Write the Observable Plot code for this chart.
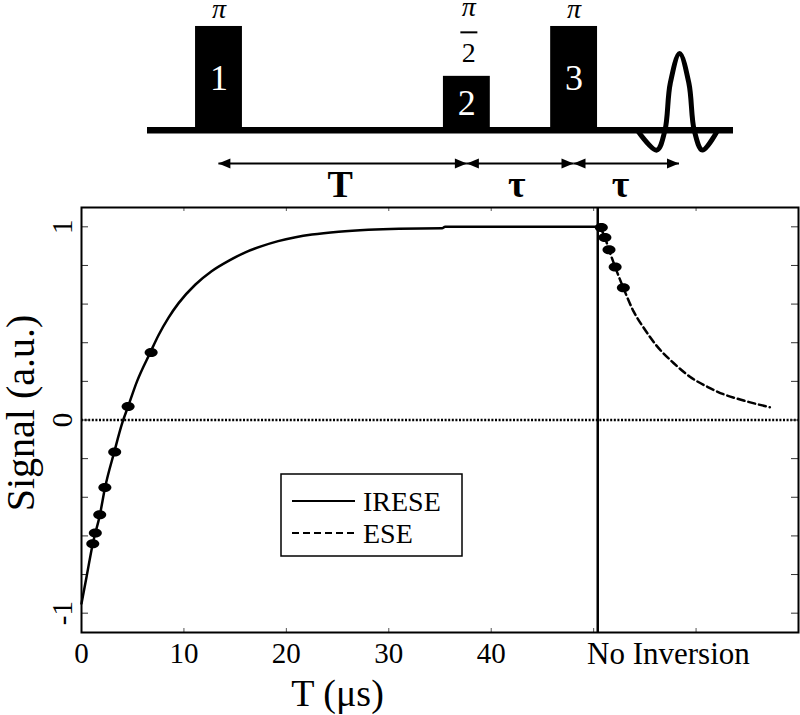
<!DOCTYPE html>
<html>
<head>
<meta charset="utf-8">
<script src="https://cdn.jsdelivr.net/npm/d3@7"></script>
<script src="https://cdn.jsdelivr.net/npm/@observablehq/plot@0.6"></script>
<style>
  body { margin: 0; background: #fff; }
  #root { width: 800px; }
  svg { display: block; }
</style>
</head>
<body>
<div id="root"></div>
<script>
// ---------- Pulse-sequence schematic (arbitrary time units, 0–100 along the baseline)
const pulseNumbers    = ["1", "2", "3"];
const pulseAngles     = ["π", "π/2", "π"];
const pulseCenters    = [12.2, 54.5, 72.8];
const pulseAmplitudes = [1, 0.52, 1];
const echoTimes       = [83.6, 86.9, 88.3, 89.2, 90.8, 92.4, 93.3, 94.7, 97.3];
const echoAmplitudes  = [0, -0.19, 0, 0.45, 0.74, 0.45, 0, -0.19, 0];
const intervalBounds  = [12.1, 54.5, 72.7, 90.7];
const intervalLabels  = ["T", "τ", "τ"];
const intervalLabelAt = [32.9, 63.0, 80.7];

// ---------- Signal vs T
const iresCurveT = [0, 0.5, 1.1, 1.8, 2.3, 3.2, 3.95, 4.55, 5.42, 6.72, 7.53, 8.5, 9.48, 11.1, 12.7, 14.4, 16.0, 17.6, 19.2, 20.9, 22.5, 25.1, 28.0, 31.0, 35.2, 35.5, 50.4];
const iresCurveS = [-0.95, -0.81, -0.64, -0.49, -0.35, -0.165, -0.02, 0.07, 0.2, 0.35, 0.44, 0.53, 0.605, 0.70, 0.77, 0.825, 0.868, 0.90, 0.926, 0.946, 0.96, 0.975, 0.985, 0.99, 0.992, 1.0, 1.0];
const iresPointsT = [1.1, 1.35, 1.78, 2.28, 3.24, 4.55, 6.8];
const iresPointsS = [-0.64, -0.585, -0.49, -0.35, -0.165, 0.07, 0.35];
const eseCurveT = [50.6, 51.1, 51.5, 52.1, 52.9, 53.9, 54.9, 56.2, 57.8, 59.4, 61.1, 62.7, 64.3, 67.2];
const eseCurveS = [1.0, 0.945, 0.881, 0.792, 0.684, 0.562, 0.476, 0.381, 0.295, 0.224, 0.172, 0.133, 0.106, 0.066];
const esePointsT = [50.75, 51.1, 51.5, 52.1, 52.9];
const esePointsS = [0.996, 0.945, 0.881, 0.792, 0.684];

const xTickLabels = [0, 10, 20, 30, 40];
const xMinorTicks = [10, 20, 30, 40, 50, 60];
const yTicks      = [-1, -0.8, -0.6, -0.4, -0.2, 0, 0.2, 0.4, 0.6, 0.8, 1];
const yTickLabels = [-1, 0, 1];
const inversionBoundary = 50.4;
const regionLabel  = "No Inversion";
const regionLabelT = 57.3;
const xTitle = "T (μs)";
const xTitleT = 25;
const yTitle = "Signal (a.u.)";
const seriesNames = ["IRESE", "ESE"];
const seriesDash  = [null, "7,4"];

const FONT = "'Liberation Serif', 'Times New Roman', serif";

// ================= Diagram =================
const pulseWidth = 8;
const arrowLevel = -0.32;
const pulses = pulseNumbers.map((n, i) => ({n, angle: pulseAngles[i], c: pulseCenters[i], amp: pulseAmplitudes[i]}));
const echo = echoTimes.map((t, i) => ({t, a: echoAmplitudes[i]}));
const intervals = intervalLabels.map((label, i) => ({label, a: intervalBounds[i], b: intervalBounds[i + 1], at: intervalLabelAt[i]}));
const fullPulses = pulses.filter(p => !p.angle.includes("/"));
const fracPulses = pulses.filter(p => p.angle.includes("/")).map(p => ({...p, num: p.angle.split("/")[0], den: p.angle.split("/")[1]}));

const headRight = {draw(ctx) { ctx.moveTo(0, 0); ctx.lineTo(-12, -5); ctx.lineTo(-12, 5); ctx.closePath(); }};
const headLeft  = {draw(ctx) { ctx.moveTo(0, 0); ctx.lineTo(12, -5); ctx.lineTo(12, 5); ctx.closePath(); }};
const fracBar   = {draw(ctx) { ctx.moveTo(-8.5, 0); ctx.lineTo(8.5, 0); }};

const diagram = Plot.plot({
  width: 800, height: 200, margin: 0,
  x: {domain: [0, 100], range: [147, 733], axis: null},
  y: {domain: [-0.675, 1.25], range: [200, 0], axis: null},
  style: {fontFamily: FONT, background: "white", color: "black", overflow: "visible"},
  marks: [
    Plot.rect(pulses, {x1: d => d.c - pulseWidth / 2, x2: d => d.c + pulseWidth / 2, y1: 0, y2: "amp", fill: "black"}),
    Plot.ruleY([0], {x1: 0, x2: 100, stroke: "black", strokeWidth: 6.5}),
    Plot.line(echo, {x: "t", y: "a", curve: "catmull-rom", stroke: "black", strokeWidth: 5, strokeLinecap: "round"}),
    Plot.text(pulses, {x: "c", y: d => d.amp / 2, text: "n", fill: "white", fontSize: 36, lineAnchor: "middle"}),
    Plot.text(fullPulses, {x: "c", y: "amp", text: "angle", dy: -8, lineAnchor: "bottom", fontStyle: "italic", fontSize: 28}),
    Plot.text(fracPulses, {x: "c", y: "amp", text: "num", dy: -60, dx: 2, lineAnchor: "bottom", fontStyle: "italic", fontSize: 28}),
    Plot.dot(fracPulses, {x: "c", y: "amp", dy: -44, dx: 2, symbol: fracBar, stroke: "black", strokeWidth: 2}),
    Plot.text(fracPulses, {x: "c", y: "amp", text: "den", dy: -14, dx: 2, lineAnchor: "bottom", fontSize: 28}),
    Plot.link(intervals, {x1: "a", x2: "b", y1: arrowLevel, y2: arrowLevel, stroke: "black", strokeWidth: 2}),
    Plot.dot(intervals, {x: "a", y: arrowLevel, symbol: headLeft, fill: "black", stroke: "none"}),
    Plot.dot(intervals, {x: "b", y: arrowLevel, symbol: headRight, fill: "black", stroke: "none"}),
    Plot.text(intervals, {x: "at", y: arrowLevel, text: "label", dy: 33, lineAnchor: "bottom", fontWeight: "bold", fontSize: 38})
  ]
});

// ================= Chart =================
const W = 800, H = 515, mL = 81, mR = 2, mT = 7, mB = 83;
const fw = W - mL - mR, fh = H - mT - mB;
const iresCurve = iresCurveT.map((t, i) => ({t, s: iresCurveS[i]}));
const eseCurve = eseCurveT.map((t, i) => ({t, s: eseCurveS[i]}));
const iresPoints = iresPointsT.map((t, i) => ({t, s: iresPointsS[i]}));
const esePoints = esePointsT.map((t, i) => ({t, s: esePointsS[i]}));

const ellipse = {draw(ctx) {
  const rx = 6.5, ry = 4.5, k = 0.5523;
  ctx.moveTo(rx, 0);
  ctx.bezierCurveTo(rx, ry * k, rx * k, ry, 0, ry);
  ctx.bezierCurveTo(-rx * k, ry, -rx, ry * k, -rx, 0);
  ctx.bezierCurveTo(-rx, -ry * k, -rx * k, -ry, 0, -ry);
  ctx.bezierCurveTo(rx * k, -ry, rx, -ry * k, rx, 0);
  ctx.closePath();
}};

const chart = Plot.plot({
  width: W, height: H, marginLeft: mL, marginRight: mR, marginTop: mT, marginBottom: mB,
  style: {fontFamily: FONT, background: "white", color: "black", overflow: "visible"},
  x: {domain: [0, 70], axis: null},
  y: {domain: [-1.1, 1.1], axis: null},
  marks: [
    Plot.ruleY([0], {stroke: "black", strokeWidth: 2.5, strokeDasharray: "2,1.6"}),
    Plot.tickY(yTicks, {y: d => d, insetRight: fw - 7, stroke: "#333", strokeWidth: 1}),
    Plot.tickY(yTicks, {y: d => d, insetLeft: fw - 7, stroke: "#333", strokeWidth: 1}),
    Plot.tickX(xMinorTicks, {x: d => d, insetTop: fh - 4, stroke: "#555", strokeWidth: 1}),
    Plot.tickX(xMinorTicks, {x: d => d, insetBottom: fh - 4, stroke: "#555", strokeWidth: 1}),
    Plot.line(iresCurve, {x: "t", y: "s", curve: "monotone-x", stroke: "black", strokeWidth: 2.5}),
    Plot.line(eseCurve, {x: "t", y: "s", curve: "monotone-x", stroke: "black", strokeWidth: 2.5, strokeDasharray: seriesDash[1]}),
    Plot.ruleX([inversionBoundary], {stroke: "black", strokeWidth: 2.5}),
    Plot.dot(iresPoints, {x: "t", y: "s", symbol: ellipse, fill: "black", stroke: "none"}),
    Plot.dot(esePoints, {x: "t", y: "s", symbol: ellipse, fill: "black", stroke: "none"}),
    Plot.frame({stroke: "black", strokeWidth: 2}),
    Plot.axisX({ticks: xTickLabels, tickSize: 0, tickPadding: 10, fontSize: 29, label: null, tickFormat: d => String(d)}),
    Plot.text([regionLabel], {x: () => regionLabelT, text: d => d, frameAnchor: "bottom", dy: 31, lineAnchor: "bottom", fontSize: 31}),
    Plot.text(yTickLabels, {y: d => d, text: d => (d < 0 ? "-" + Math.abs(d) : String(d)), frameAnchor: "left", dx: -19, rotate: -90, textAnchor: "middle", lineAnchor: "middle", fontSize: 29}),
    Plot.text([xTitle], {x: () => xTitleT, text: d => d, frameAnchor: "bottom", dy: 73, lineAnchor: "bottom", fontSize: 38}),
    Plot.text([yTitle], {text: d => d, frameAnchor: "left", dx: -60, dy: -7, rotate: -90, textAnchor: "middle", lineAnchor: "middle", fontSize: 40})
  ]
});

// Legend (series names with their line styles)
const lg = d3.select(chart).append("g").attr("font-family", FONT).attr("text-anchor", "start");
lg.append("rect").attr("x", 281).attr("y", 274).attr("width", 181).attr("height", 82)
  .attr("fill", "white").attr("stroke", "black").attr("stroke-width", 1.5);
seriesNames.forEach((name, i) => {
  const yy = 301 + i * 32;
  lg.append("line").attr("x1", 292).attr("x2", 355).attr("y1", yy).attr("y2", yy)
    .attr("stroke", "black").attr("stroke-width", 2)
    .attr("stroke-dasharray", seriesDash[i]);
  lg.append("text").attr("x", 363).attr("y", yy + 10).attr("font-size", 28)
    .attr("text-anchor", "start").attr("fill", "black").text(name);
});

const root = document.getElementById("root");
root.append(diagram, chart);
</script>
</body>
</html>
